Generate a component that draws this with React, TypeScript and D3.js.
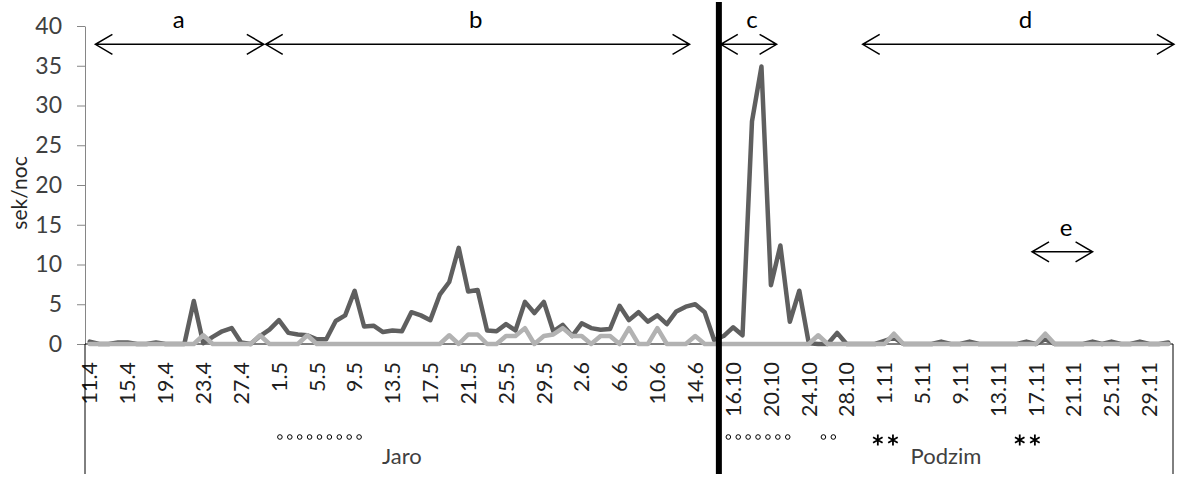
import React, { useEffect, useRef } from 'react';
import * as d3 from 'd3';

// days: spring 11.4 - 16.6, autumn 15.10 - 1.12
const springDays = d3.timeDay.range(new Date(2011, 3, 11), new Date(2011, 5, 17));
const autumnDays = d3.timeDay.range(new Date(2011, 9, 15), new Date(2011, 11, 2));
const categories = [...springDays, ...autumnDays].map((d) => `${d.getDate()}.${d.getMonth() + 1}`);

const groups = [
  { name: 'Jaro', from: 0, to: springDays.length },
  { name: 'Podzim', from: springDays.length, to: springDays.length + autumnDays.length },
];

// sek/noc, dark series
const seriesDark = [
  0.3, 0, 0, 0.2, 0.2, 0, 0, 0.2, 0, 0,
  0, 5.4, 0.1, 0.9, 1.6, 2.0, 0.2, 0, 1.0, 1.8,
  3.0, 1.4, 1.2, 1.1, 0.6, 0.6, 2.9, 3.6, 6.7, 2.2,
  2.3, 1.5, 1.7, 1.6, 4.0, 3.6, 3.0, 6.2, 7.8, 12.1,
  6.6, 6.8, 1.7, 1.6, 2.5, 1.7, 5.3, 3.9, 5.3, 1.6,
  2.4, 1.0, 2.6, 2.0, 1.8, 1.9, 4.8, 3.0, 4.0, 2.8,
  3.6, 2.5, 4.1, 4.7, 5.0, 4.0, 0.5,
  1.0, 2.1, 1.1, 28.0, 34.9, 7.4, 12.4, 2.8, 6.7, 0.1,
  0, 0, 1.4, 0, 0, 0, 0, 0.4, 0.8, 0,
  0, 0, 0, 0.3, 0, 0, 0.3, 0, 0, 0,
  0, 0, 0.3, 0, 0.6, 0, 0, 0, 0, 0.3,
  0, 0.3, 0, 0, 0.3, 0, 0, 0.2,
];

// light series
const seriesLight = [
  0, 0, 0, 0, 0, 0, 0, 0, 0, 0,
  0, 0, 1.1, 0, 0, 0, 0, 0, 1.1, 0,
  0, 0, 0, 1.1, 0, 0, 0, 0, 0, 0,
  0, 0, 0, 0, 0, 0, 0, 0, 1.1, 0,
  1.2, 1.2, 0, 0, 1.0, 1.0, 2.0, 0, 1.0, 1.2,
  2.0, 1.0, 1.0, 0, 1.0, 1.0, 0, 2.0, 0, 0,
  2.0, 0, 0, 0, 1.0, 0, 0,
  0, 0, 0, 0, 0, 0, 0, 0, 0, 0,
  1.1, 0, 0, 0, 0, 0, 0, 0, 1.3, 0,
  0, 0, 0, 0, 0, 0, 0, 0, 0, 0,
  0, 0, 0, 0, 1.3, 0, 0, 0, 0, 0,
  0, 0, 0, 0, 0, 0, 0, 0,
];

const yTicks = [0, 5, 10, 15, 20, 25, 30, 35, 40];

// period arrows, positions in category units
const periods = [
  { label: 'a', from: 1.1, to: 18.9, at: 37.7, lx: 9.9 },
  { label: 'b', from: 19.1, to: 63.9, at: 37.7, lx: 41.3 },
  { label: 'c', from: 67.2, to: 73.1, at: 37.7, lx: 70.5 },
  { label: 'd', from: 82.2, to: 115.1, at: 37.7, lx: 99.4 },
  { label: 'e', from: 100.1, to: 106.5, at: 11.6, lx: 103.7 },
];

const circleMarks = [
  { at: 20.6, count: 9 },
  { at: 68.0, count: 7 },
  { at: 78.05, count: 2 },
];
const starMarks = [83.8, 85.4, 98.8, 100.4];

export default function App() {
  const ref = useRef<SVGSVGElement>(null);

  useEffect(() => {
    const width = 1182;
    const height = 477;
    const left = 85;
    const right = 1173;
    const font = 'Lato, "Open Sans", sans-serif';

    const svg = d3.select(ref.current);
    svg.selectAll('*').remove();

    const x = d3.scaleBand<number>().domain(d3.range(categories.length)).range([left, right]);
    const step = x.step();
    const cx = (i: number) => (x(i) as number) + step / 2;
    const xt = (t: number) => left + t * step;
    const y = d3.scaleLinear().domain([0, 40]).range([344, 26]);

    // y axis
    const yAxis = svg
      .append('g')
      .attr('transform', `translate(${left},0)`)
      .call(d3.axisLeft(y).tickValues(yTicks).tickSize(8).tickSizeOuter(0).tickPadding(15));
    yAxis.select('.domain').attr('stroke', '#868686');
    yAxis.selectAll('.tick line').attr('stroke', '#868686');
    yAxis
      .selectAll('.tick text')
      .attr('font-family', font)
      .attr('font-size', 23)
      .attr('fill', '#404040');

    svg
      .append('text')
      .attr('transform', 'translate(27,193) rotate(-90)')
      .attr('text-anchor', 'middle')
      .attr('font-family', font)
      .attr('font-size', 21)
      .attr('fill', '#262626')
      .text('sek/noc');

    // category axis
    svg
      .append('line')
      .attr('x1', left)
      .attr('x2', right)
      .attr('y1', y(0))
      .attr('y2', y(0))
      .attr('stroke', '#000')
      .attr('stroke-width', 1);

    svg
      .append('g')
      .selectAll('text')
      .data(categories.map((c, i) => ({ c, i })).filter((d) => d.i % 4 === 0))
      .join('text')
      .attr('transform', (d) => `translate(${cx(d.i)},362) rotate(-90)`)
      .attr('text-anchor', 'end')
      .attr('dy', '0.36em')
      .attr('font-family', font)
      .attr('font-size', 21.5)
      .attr('fill', '#1f1f1f')
      .text((d) => d.c);

    // group separators + labels
    const bounds = [0, groups[1].from, categories.length];
    svg
      .append('g')
      .selectAll('line')
      .data(bounds)
      .join('line')
      .attr('x1', (b) => xt(b))
      .attr('x2', (b) => xt(b))
      .attr('y1', y(0))
      .attr('y2', 474)
      .attr('stroke', '#000');

    svg
      .append('g')
      .selectAll('text')
      .data(groups)
      .join('text')
      .attr('x', (g) => (xt(g.from) + xt(g.to)) / 2)
      .attr('y', 464)
      .attr('text-anchor', 'middle')
      .attr('font-family', font)
      .attr('font-size', 22)
      .attr('fill', '#404040')
      .text((g) => g.name);

    // small circle and star marks under the labels
    circleMarks.forEach((m) => {
      svg
        .append('g')
        .selectAll('circle')
        .data(d3.range(m.count))
        .join('circle')
        .attr('cx', (k) => xt(m.at) + k * 9.9)
        .attr('cy', 437)
        .attr('r', 2.3)
        .attr('fill', 'none')
        .attr('stroke', '#000')
        .attr('stroke-width', 1);
    });
    const star = d3.range(3).map((k) => {
      const a = (Math.PI / 3) * k + Math.PI / 2;
      const r = 5.5;
      return `M${-r * Math.cos(a)},${-r * Math.sin(a)}L${r * Math.cos(a)},${r * Math.sin(a)}`;
    });
    svg
      .append('g')
      .selectAll('path')
      .data(starMarks)
      .join('path')
      .attr('transform', (t) => `translate(${xt(t)},440)`)
      .attr('d', star.join(''))
      .attr('stroke', '#000')
      .attr('stroke-width', 1.8)
      .attr('fill', 'none');

    // series
    const line = d3
      .line<number>()
      .x((_, i) => cx(i))
      .y((v) => y(v));

    svg
      .append('path')
      .datum(seriesDark)
      .attr('d', line)
      .attr('fill', 'none')
      .attr('stroke', '#5f5f5f')
      .attr('stroke-width', 4.5)
      .attr('stroke-linejoin', 'round')
      .attr('stroke-linecap', 'round');

    svg
      .append('path')
      .datum(seriesLight)
      .attr('d', line)
      .attr('fill', 'none')
      .attr('stroke', '#b2b2b2')
      .attr('stroke-width', 4.5)
      .attr('stroke-linejoin', 'round')
      .attr('stroke-linecap', 'round');

    // spring / autumn divider
    svg
      .append('line')
      .attr('x1', xt(groups[1].from))
      .attr('x2', xt(groups[1].from))
      .attr('y1', 2)
      .attr('y2', 474)
      .attr('stroke', '#000')
      .attr('stroke-width', 6);

    // period arrows
    const arrows = svg.append('g').attr('stroke', '#000').attr('stroke-width', 1.5).attr('fill', 'none');
    periods.forEach((p) => {
      const x1 = xt(p.from);
      const x2 = xt(p.to);
      const yy = y(p.at);
      arrows
        .append('path')
        .attr(
          'd',
          `M${x1},${yy}L${x2},${yy}` +
            `M${x1 + 17},${yy - 10}L${x1},${yy}L${x1 + 17},${yy + 10}` +
            `M${x2 - 17},${yy - 10}L${x2},${yy}L${x2 - 17},${yy + 10}`
        );
      svg
        .append('text')
        .attr('x', xt(p.lx))
        .attr('y', yy - 16)
        .attr('text-anchor', 'middle')
        .attr('font-family', font)
        .attr('font-size', 24)
        .attr('fill', '#000')
        .text(p.label);
    });

    svg.attr('width', width).attr('height', height);
  }, []);

  return (
    <svg
      ref={ref}
      width={1182}
      height={477}
      style={{ position: 'absolute', left: 0, top: 0, background: '#fff' }}
    />
  );
}
